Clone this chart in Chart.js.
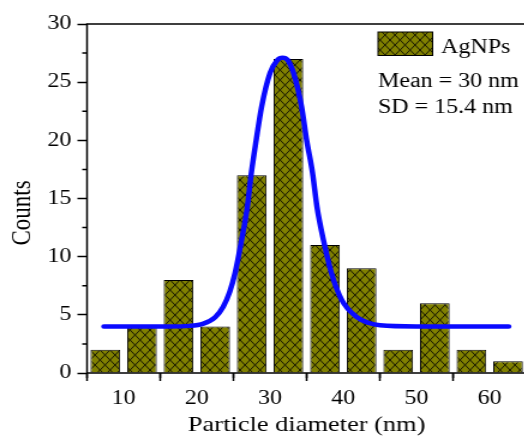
<!DOCTYPE html>
<html>
<head>
<meta charset="utf-8">
<script src="https://cdn.jsdelivr.net/npm/chart.js@4.4.1/dist/chart.umd.min.js"></script>
<style>
  html, body { margin: 0; padding: 0; background: #fff; overflow: hidden; }
  /* the reference is stretched horizontally, so draw narrow and stretch */
  #chart { display: block; transform: scaleX(1.2); transform-origin: 0 0; }
</style>
</head>
<body>
<canvas id="chart" width="441" height="436"></canvas>
<script>
// Histogram: centre of each 5 nm bin and its count
const binCenters = [7.5, 12.5, 17.5, 22.5, 27.5, 32.5, 37.5, 42.5, 47.5, 52.5, 57.5, 62.5];
const counts = [2, 4, 8, 4, 17, 27, 11, 9, 2, 6, 2, 1];

// Fitted curve, points
const fitX = [7.3, 12, 16, 19, 20.9, 22.5, 23.6, 24.5, 25.2, 26.1, 26.9, 27.4, 28.1, 28.85, 30.0, 31.0, 31.7,
  32.4, 33.2, 34.3, 35.0, 35.8, 36.4, 37.3, 38.4, 39.8, 41.8, 43.5, 45.0, 50, 55, 60, 62.6];
const fitY = [4.0, 4.0, 4.0, 4.05, 4.25, 4.8, 5.7, 7.0, 8.55, 11.4, 14.3, 17.0, 20.0, 22.9, 25.8, 26.9, 27.1,
  26.9, 25.8, 22.9, 20.0, 17.2, 14.3, 11.4, 8.55, 6.26, 4.82, 4.3, 4.1, 4.0, 4.0, 4.0, 4.0];

// Axis ticks
const xTicks = [10, 20, 30, 40, 50, 60];
const xMinorTicks = [5, 15, 25, 35, 45, 55, 65];
const yMinorTicks = [2.5, 7.5, 12.5, 17.5, 22.5, 27.5];

// Texts
const legendLabel = 'AgNPs';
const statsLines = ['Mean = 30 nm', 'SD = 15.4 nm'];
const xTitle = 'Particle diameter (nm)';
const yTitle = 'Counts';

const SERIF = "'Liberation Serif', 'Times New Roman', serif";

// olive fill with black cross hatch
function makeHatch(ctx) {
  const w = 25, h = 30;
  const tile = document.createElement('canvas');
  tile.width = w;
  tile.height = h;
  const c = tile.getContext('2d');
  c.fillStyle = '#808000';
  c.fillRect(0, 0, w, h);
  c.strokeStyle = '#161600';
  c.lineWidth = 1;
  const dx = w / 3;
  for (let k = -3; k <= 3; k++) {
    c.beginPath();
    c.moveTo(k * dx, 0);
    c.lineTo(k * dx + w, h);
    c.moveTo(k * dx, h);
    c.lineTo(k * dx + w, 0);
    c.stroke();
  }
  return ctx.createPattern(tile, 'repeat');
}

const ctx = document.getElementById('chart').getContext('2d');
const hatch = makeHatch(ctx);

// frame, minor ticks, y title and the legend box
const extrasPlugin = {
  id: 'extras',
  afterDraw(chart) {
    const { ctx, chartArea: a, scales: { x, y } } = chart;
    ctx.save();
    ctx.strokeStyle = '#000';
    ctx.lineWidth = 1.5;
    ctx.strokeRect(a.left, a.top, a.right - a.left, a.bottom - a.top);

    ctx.beginPath();
    yMinorTicks.forEach(v => {
      const py = y.getPixelForValue(v);
      ctx.moveTo(a.left, py);
      ctx.lineTo(a.left - 4, py);
    });
    xMinorTicks.forEach(v => {
      const px = x.getPixelForValue(v);
      ctx.moveTo(px, a.bottom);
      ctx.lineTo(px, a.bottom + 5);
    });
    ctx.stroke();

    // y title
    ctx.fillStyle = '#000';
    ctx.font = '23px ' + SERIF;
    ctx.textAlign = 'center';
    ctx.textBaseline = 'middle';
    ctx.translate(19, 213);
    ctx.rotate(-Math.PI / 2);
    ctx.fillText(yTitle, 0, 0);
    ctx.setTransform(1, 0, 0, 1, 0, 0);

    // legend
    ctx.fillStyle = hatch;
    ctx.fillRect(315, 32, 45.5, 23.5);
    ctx.lineWidth = 1;
    ctx.strokeRect(315, 32, 45.5, 23.5);
    ctx.fillStyle = '#000';
    ctx.font = '20px ' + SERIF;
    ctx.textAlign = 'left';
    ctx.textBaseline = 'alphabetic';
    ctx.fillText(legendLabel, 367.5, 52.5);
    ctx.fillText(statsLines[0], 315, 87);
    ctx.fillText(statsLines[1], 315, 113);
    ctx.restore();
  }
};

new Chart(ctx, {
  type: 'bar',
  data: {
    datasets: [
      {
        type: 'line',
        label: 'Fit',
        data: fitX.map((v, i) => ({ x: v, y: fitY[i] })),
        borderColor: '#0a0aff',
        borderWidth: 4.5,
        borderCapStyle: 'round',
        borderJoinStyle: 'round',
        pointRadius: 0,
        cubicInterpolationMode: 'monotone',
        fill: false,
        order: 0
      },
      {
        type: 'bar',
        label: legendLabel,
        data: binCenters.map((v, i) => ({ x: v, y: counts[i] })),
        backgroundColor: hatch,
        borderColor: '#000',
        borderWidth: 1,
        barPercentage: 0.81,
        categoryPercentage: 1,
        order: 1
      }
    ]
  },
  options: {
    responsive: false,
    devicePixelRatio: 1,
    animation: false,
    layout: { padding: { left: 0, top: 24, right: 2.4, bottom: 0 } },
    plugins: { legend: { display: false }, tooltip: { enabled: false } },
    scales: {
      x: {
        type: 'linear',
        min: 5,
        max: 65,
        offset: false,
        afterBuildTicks: s => { s.ticks = xTicks.map(v => ({ value: v })); },
        afterFit: s => { s.height = 63; },
        grid: { drawOnChartArea: false, drawTicks: true, tickLength: 8, tickColor: '#000', tickWidth: 1.5 },
        border: { display: false },
        ticks: { color: '#000', font: { family: SERIF, size: 20 }, padding: 6, maxRotation: 0 },
        title: {
          display: true,
          text: xTitle,
          color: '#000',
          font: { family: SERIF, size: 22, lineHeight: 1 },
          padding: 0
        }
      },
      y: {
        min: 0,
        max: 30,
        afterFit: s => { s.width = 72.5; },
        grid: { drawOnChartArea: false, drawTicks: true, tickLength: 8, tickColor: '#000', tickWidth: 1.5 },
        border: { display: false },
        ticks: { stepSize: 5, color: '#000', font: { family: SERIF, size: 20 }, padding: 5 }
      }
    }
  },
  plugins: [extrasPlugin]
});
</script>
</body>
</html>
